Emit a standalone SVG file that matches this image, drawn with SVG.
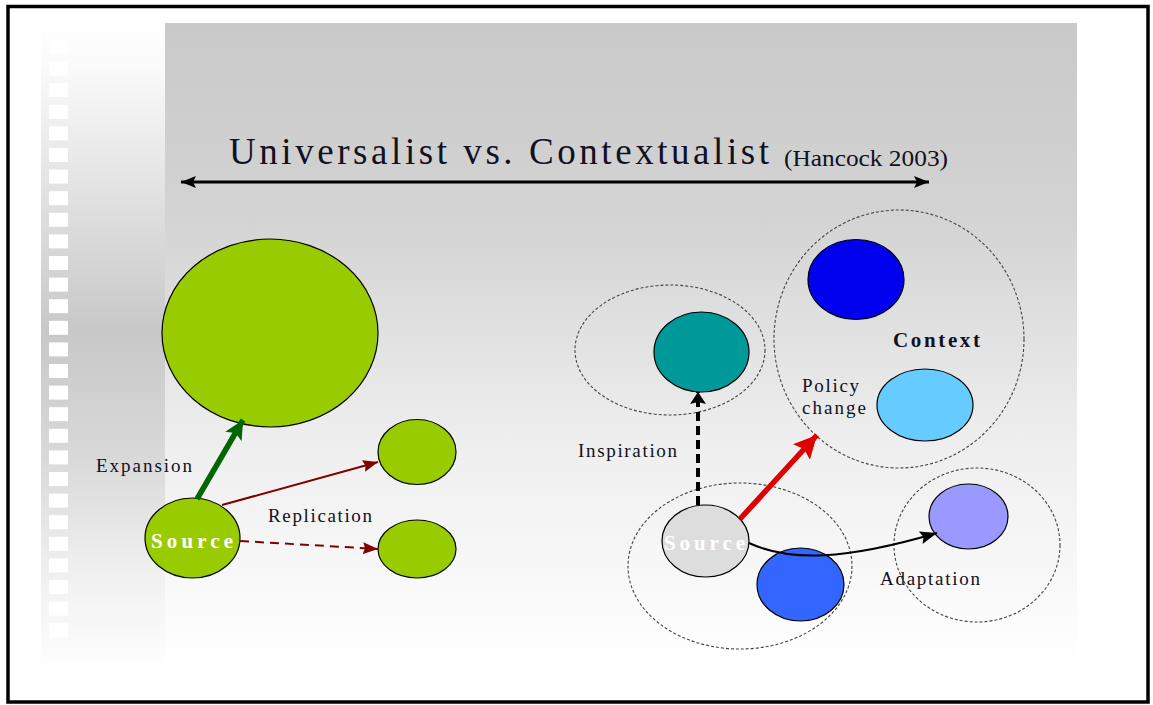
<svg xmlns="http://www.w3.org/2000/svg" width="1153" height="705" viewBox="0 0 1153 705">
  <defs>
    <linearGradient id="panelGrad" gradientUnits="userSpaceOnUse" x1="0" y1="23" x2="0" y2="665">
      <stop offset="0" stop-color="#c9c9c9"/>
      <stop offset="0.3" stop-color="#d3d3d3"/>
      <stop offset="0.65" stop-color="#eeeeee"/>
      <stop offset="1" stop-color="#ffffff"/>
    </linearGradient>
    <linearGradient id="stripGrad" gradientUnits="userSpaceOnUse" x1="0" y1="23" x2="0" y2="665">
      <stop offset="0" stop-color="#fefefe"/>
      <stop offset="0.06" stop-color="#fbfbfb"/>
      <stop offset="0.28" stop-color="#e0e0e0"/>
      <stop offset="0.48" stop-color="#c8c8c8"/>
      <stop offset="0.67" stop-color="#d8d8d8"/>
      <stop offset="0.84" stop-color="#eeeeee"/>
      <stop offset="1" stop-color="#fefefe"/>
    </linearGradient>
    <marker id="headBlack" markerUnits="userSpaceOnUse" markerWidth="16" markerHeight="14" refX="15" refY="7" orient="auto-start-reverse">
      <path d="M0,1 L15,7 L0,13 L3,7 Z" fill="#000"/>
    </marker>
    <marker id="headGreen" markerUnits="userSpaceOnUse" markerWidth="20" markerHeight="20" refX="19" refY="10" orient="auto">
      <path d="M0,0.5 L19,10 L0,19.5 L4,10 Z" fill="#006600"/>
    </marker>
    <marker id="headRed" markerUnits="userSpaceOnUse" markerWidth="24" markerHeight="24" refX="23" refY="12" orient="auto">
      <path d="M0,0.5 L23,12 L0,23.5 L4,12 Z" fill="#dd0000"/>
    </marker>
    <marker id="headMaroon" markerUnits="userSpaceOnUse" markerWidth="16" markerHeight="14" refX="15" refY="7" orient="auto">
      <path d="M0,1 L15,7 L0,13 L2,7 Z" fill="#800000"/>
    </marker>
    <marker id="headCurve" markerUnits="userSpaceOnUse" markerWidth="18" markerHeight="14" refX="17" refY="7" orient="auto">
      <path d="M0,0.5 L17,7 L0,13.5 L3,7 Z" fill="#000"/>
    </marker>
    <marker id="headDash" markerUnits="userSpaceOnUse" markerWidth="18" markerHeight="18" refX="12" refY="9" orient="auto">
      <path d="M0,1 L12,9 L0,17 L2,9 Z" fill="#000"/>
    </marker>
  </defs>
  <style>
    .label { font-family: "Liberation Serif", "Times New Roman", serif; fill: #111122; }
    .node { stroke: #000; stroke-width: 1.2; }
    .green { fill: #99cc00; }
    .ring { fill: none; stroke: #444; stroke-width: 1.1; stroke-dasharray: 3 2; }
    .src { font-family: "Liberation Serif", "Times New Roman", serif; font-weight: bold; fill: #ffffff; font-size: 21px; }
  </style>

  <!-- page frame -->
  <rect x="8" y="6.5" width="1140" height="695.5" fill="#ffffff" stroke="#000" stroke-width="3.5"/>

  <!-- backdrop: side strip and shaded panel -->
  <rect x="41" y="23" width="124" height="642" fill="url(#stripGrad)"/>
  <g id="strip-holes" fill="#ffffff">
    <rect x="49" y="40" width="19" height="14"/>
    <rect x="49" y="61.6" width="19" height="14"/>
    <rect x="49" y="83.2" width="19" height="14"/>
    <rect x="49" y="104.8" width="19" height="14"/>
    <rect x="49" y="126.4" width="19" height="14"/>
    <rect x="49" y="148" width="19" height="14"/>
    <rect x="49" y="169.6" width="19" height="14"/>
    <rect x="49" y="191.2" width="19" height="14"/>
    <rect x="49" y="212.8" width="19" height="14"/>
    <rect x="49" y="234.4" width="19" height="14"/>
    <rect x="49" y="256" width="19" height="14"/>
    <rect x="49" y="277.6" width="19" height="14"/>
    <rect x="49" y="299.2" width="19" height="14"/>
    <rect x="49" y="320.8" width="19" height="14"/>
    <rect x="49" y="342.4" width="19" height="14"/>
    <rect x="49" y="364" width="19" height="14"/>
    <rect x="49" y="385.6" width="19" height="14"/>
    <rect x="49" y="407.2" width="19" height="14"/>
    <rect x="49" y="428.8" width="19" height="14"/>
    <rect x="49" y="450.4" width="19" height="14"/>
    <rect x="49" y="472" width="19" height="14"/>
    <rect x="49" y="493.6" width="19" height="14"/>
    <rect x="49" y="515.2" width="19" height="14"/>
    <rect x="49" y="536.8" width="19" height="14"/>
    <rect x="49" y="558.4" width="19" height="14"/>
    <rect x="49" y="580" width="19" height="14"/>
    <rect x="49" y="601.6" width="19" height="14"/>
    <rect x="49" y="623.2" width="19" height="14"/>
  </g>
  <rect x="165" y="23" width="912" height="642" fill="url(#panelGrad)"/>

  <!-- heading -->
  <g id="title">
    <text class="label" x="229" y="164" font-size="37" textLength="540" lengthAdjust="spacing">Universalist vs. Contextualist</text>
    <text class="label" x="784" y="166" font-size="23" textLength="164" lengthAdjust="spacingAndGlyphs">(Hancock 2003)</text>
  </g>

  <!-- universalist side -->
  <g id="expansion-target">
    <ellipse class="node green" cx="270" cy="333" rx="108" ry="94"/>
  </g>
  <g id="replica-top">
    <ellipse class="node green" cx="417" cy="452" rx="39" ry="32.5"/>
  </g>
  <g id="replica-bottom">
    <ellipse class="node green" cx="417" cy="549" rx="39" ry="29"/>
  </g>
  <g id="source-left">
    <ellipse class="node green" cx="192.5" cy="538" rx="47.5" ry="40"/>
    <text class="src" x="151" y="548" textLength="82" lengthAdjust="spacing">Source</text>
  </g>
  <g id="labels-left">
    <text class="label" x="96" y="472" font-size="19" textLength="96" lengthAdjust="spacing">Expansion</text>
    <text class="label" x="268" y="522" font-size="19" textLength="104" lengthAdjust="spacing">Replication</text>
  </g>

  <!-- contextualist side -->
  <g id="inspiration-ring">
    <ellipse class="ring" cx="670" cy="350" rx="95" ry="65"/>
    <ellipse class="node" cx="701.5" cy="352" rx="47.5" ry="40" fill="#009999"/>
  </g>
  <g id="context-ring">
    <ellipse class="ring" cx="899" cy="339" rx="125" ry="129"/>
    <ellipse class="node" cx="856" cy="279.5" rx="48" ry="40" fill="#0000ee"/>
    <ellipse class="node" cx="925" cy="405" rx="48" ry="36" fill="#66ccff"/>
    <text class="label" x="893" y="347" font-size="21" font-weight="bold" textLength="87" lengthAdjust="spacing">Context</text>
    <text class="label" x="802" y="392" font-size="19" textLength="57" lengthAdjust="spacing">Policy</text>
    <text class="label" x="802" y="414" font-size="19" textLength="64" lengthAdjust="spacing">change</text>
  </g>
  <g id="source-ring">
    <ellipse class="ring" cx="740" cy="566" rx="112" ry="83"/>
    <ellipse class="node" cx="800.5" cy="584.5" rx="43.5" ry="36.5" fill="#3366ff"/>
    <ellipse class="node" cx="705.5" cy="541" rx="43.5" ry="36" fill="#dddddd"/>
    <text class="src" x="664" y="550" textLength="81" lengthAdjust="spacing">Source</text>
  </g>
  <g id="adaptation-ring">
    <ellipse class="ring" cx="977" cy="545" rx="83" ry="77"/>
    <ellipse class="node" cx="968.5" cy="516.5" rx="39.5" ry="32.5" fill="#9999ff"/>
    <text class="label" x="880" y="585" font-size="19" textLength="100" lengthAdjust="spacing">Adaptation</text>
  </g>
  <g id="labels-right">
    <text class="label" x="578" y="457" font-size="19" textLength="99" lengthAdjust="spacing">Inspiration</text>
  </g>

  <!-- connectors, drawn over the nodes -->
  <g id="connectors" fill="none">
    <line x1="181" y1="182" x2="929" y2="182" stroke="#000" stroke-width="3" marker-start="url(#headBlack)" marker-end="url(#headBlack)"/>
    <line x1="197" y1="499" x2="243" y2="420" stroke="#006600" stroke-width="5.5" marker-end="url(#headGreen)"/>
    <line x1="222" y1="505" x2="378" y2="462" stroke="#800000" stroke-width="2" marker-end="url(#headMaroon)"/>
    <line x1="240" y1="541" x2="378" y2="549" stroke="#800000" stroke-width="2" stroke-dasharray="9 6" marker-end="url(#headMaroon)"/>
    <line x1="698" y1="505" x2="698" y2="392" stroke="#000" stroke-width="4" stroke-dasharray="9 5" marker-end="url(#headDash)"/>
    <line x1="740" y1="519" x2="817" y2="435" stroke="#dd0000" stroke-width="5.5" marker-end="url(#headRed)"/>
    <path d="M749,543 C790,562 845,560 937,533" stroke="#000" stroke-width="2" marker-end="url(#headCurve)"/>
  </g>
</svg>
